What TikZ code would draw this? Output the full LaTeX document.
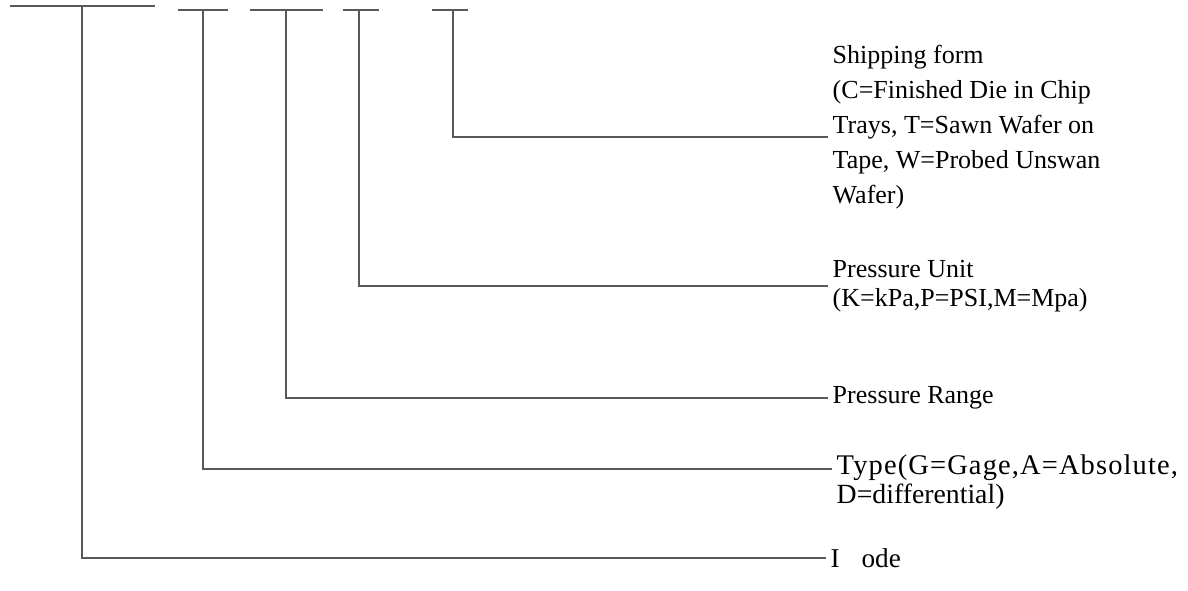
\documentclass[tikz,border=0pt]{standalone}
\usepackage{fontspec}
\setmainfont{Liberation Serif}
\usepackage{tikz}

\tikzset{
  bar/.style={line width=1.1pt, draw=black!65},
  lead/.style={line width=1.1pt, draw=black!65},
  codetext/.style={anchor=west, inner xsep=2.5pt, inner ysep=0pt, align=left,
    font=\fontsize{14.8}{16.5}\selectfont}
}

\begin{document}
\begin{tikzpicture}[x=0.02cm, y=-0.02cm]
\useasboundingbox (0,0) rectangle (1188,591);

% ============================================
% 1. KRESKI
% ============================================
\draw[bar] (10,6) -- (155,6);
\draw[bar] (178,10) -- (228,10);
\draw[bar] (250,10) -- (323,10);
\draw[bar] (343,10) -- (379,10);
\draw[bar] (432,10) -- (468,10);

\coordinate (s1) at (82,6);
\coordinate (s2) at (203,10);
\coordinate (s3) at (286,10);
\coordinate (s4) at (359,10);
\coordinate (s5) at (453,10);

% ============================================
% 2. OPISY
% ============================================
\node[codetext, font=\fontsize{14.8}{19.9}\selectfont] (ship) at (828,127)
  {Shipping form\\(C=Finished Die in Chip\\Trays, T=Sawn Wafer on\\Tape, W=Probed Unswan\\Wafer)};
\node[codetext] (unit) at (828,286) {Pressure Unit\\(K=kPa,P=PSI,M=Mpa)};
\node[codetext] (range) at (828,398) {Pressure Range};
\node[codetext, font=\fontsize{16.2}{16.5}\selectfont] (type) at (832,482)
  {\addfontfeature{LetterSpace=4}Type(G=Gage,A=Absolute,\\
   \fontsize{15.8}{16.5}\selectfont D=differential)};
\node[codetext, font=\fontsize{15.5}{17}\selectfont] (mode) at (826,558) {I\hspace{0.8em}ode};

% ============================================
% 3. LINIE
% ============================================
\draw[lead] (s5) |- ([yshift=-0.2cm]ship.west);
\draw[lead] (s4) |- (unit.west);
\draw[lead] (s3) |- (range.west);
\draw[lead] (s2) |- ([yshift=0.26cm]type.west);
\draw[lead] (s1) |- (mode.west);

\end{tikzpicture}
\end{document}
